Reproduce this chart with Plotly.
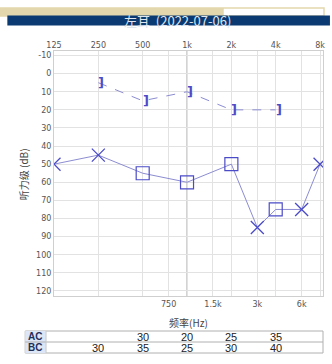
import numpy as np
import plotly.graph_objects as go

# ---- data ----
ac_freq = [125, 250, 500, 1000, 2000, 3000, 4000, 6000, 8000]
ac_db = [50, 45, 55, 60, 50, 85, 75, 75, 50]
ac_symbol = ["x", "x", "sq", "sq", "sq", "x", "sq", "x", "x"]
bc_freq = [250, 500, 1000, 2000, 4000]
bc_db = [5, 15, 10, 20, 20]
top_ticks = [125, 250, 500, 1000, 2000, 4000, 8000]
top_labels = ["125", "250", "500", "1k", "2k", "4k", "8k"]
bot_ticks = [750, 1500, 3000, 6000]
bot_labels = ["750", "1.5k", "3k", "6k"]
y_ticks = list(range(-10, 121, 10))
y_labels = [str(v) for v in y_ticks]
table_freq = [250, 500, 1000, 2000, 4000]
table_ac = ["", "30", "20", "25", "35"]
table_bc = ["30", "35", "25", "30", "40"]
title = "左耳 &nbsp;(2022-07-06)"

W, H = 332, 364
L, R, T, B = 54, 325, 51, 296

def xp(px):
    return (px - L) / (R - L)

def yp(py):
    return (B - py) / (B - T)

mark_col = "#4b4bc8"
line_col = "#8c8cd2"

fig = go.Figure()
fig.add_trace(go.Scatter(x=ac_freq, y=ac_db, mode="lines",
                         line=dict(color=line_col, width=1), hoverinfo="skip"))
xs = [f for f, s in zip(ac_freq, ac_symbol) if s == "x"]
xd = [d for d, s in zip(ac_db, ac_symbol) if s == "x"]
ss = [f for f, s in zip(ac_freq, ac_symbol) if s == "sq"]
sd = [d for d, s in zip(ac_db, ac_symbol) if s == "sq"]
fig.add_trace(go.Scatter(x=xs, y=xd, mode="markers",
                         marker=dict(symbol="x-thin-open", size=13, color=mark_col,
                                     line=dict(color=mark_col, width=1.3))))
fig.add_trace(go.Scatter(x=ss, y=sd, mode="markers",
                         marker=dict(symbol="square-open", size=13, color=mark_col,
                                     line=dict(color=mark_col, width=1.2))))
fig.add_trace(go.Scatter(x=bc_freq, y=bc_db, mode="lines",
                         line=dict(color=line_col, width=1, dash="dash")))
for f, d in zip(bc_freq, bc_db):
    fig.add_annotation(x=np.log10(f), y=d, xref="x", yref="y", text="<b>]</b>",
                       showarrow=False, xshift=3, xanchor="center", yanchor="middle",
                       font=dict(family="DejaVu Sans", size=13, color=mark_col))
# invisible trace on top axis
fig.add_trace(go.Scatter(x=[125, 8000], y=[0, 0], xaxis="x2", mode="markers",
                         marker=dict(opacity=0), hoverinfo="skip"))

xr = [np.log10(125), np.log10(125) + (R - L) / 148.4]
axis_font = dict(family="DejaVu Sans", size=8, color="#555")
fig.update_layout(
    width=W, height=H, margin=dict(l=L, r=W - R, t=T, b=H - B),
    paper_bgcolor="white", plot_bgcolor="white", showlegend=False,
    xaxis=dict(type="log", range=xr, tickvals=bot_ticks, ticktext=bot_labels,
               showgrid=True, gridcolor="#e2e2e2", gridwidth=1, ticks="",
               tickfont=axis_font, showline=True, linecolor="#cfcfcf", mirror=True,
               zeroline=False),
    xaxis2=dict(type="log", range=xr, overlaying="x", side="top",
                tickvals=top_ticks, ticktext=top_labels, showgrid=True,
                gridcolor="#e2e2e2", ticks="", tickfont=axis_font, zeroline=False),
    yaxis=dict(range=[122.8, -12.5], tickvals=y_ticks, ticktext=y_labels,
               showgrid=True, gridcolor="#e2e2e2", ticks="", tickfont=axis_font,
               zeroline=False, showline=True, linecolor="#cfcfcf", mirror=True),
)
# darker 1k line
fig.add_shape(type="line", xref="x", yref="paper", x0=1000, x1=1000, y0=0, y1=1,
              line=dict(color="#b8b8b8", width=1.3), layer="below")

def note(px, py, text, size, color, family="Noto Sans CJK SC", angle=0):
    fig.add_annotation(xref="paper", yref="paper", x=xp(px), y=yp(py), text=text,
                       showarrow=False, xanchor="center", yanchor="middle",
                       textangle=angle, font=dict(family=family, size=size, color=color))

# header bars
fig.add_shape(type="rect", xref="paper", yref="paper", x0=xp(0), x1=xp(326),
              y0=yp(16), y1=yp(8), fillcolor="white",
              line=dict(color="#e3d7ad", width=1.5))
fig.add_shape(type="rect", xref="paper", yref="paper", x0=xp(0), x1=xp(225),
              y0=yp(16), y1=yp(8), fillcolor="#e3d7ad", line=dict(width=0))
fig.add_shape(type="rect", xref="paper", yref="paper", x0=xp(7), x1=xp(332),
              y0=yp(25.5), y1=yp(15.5), fillcolor="#0b3a72", line=dict(width=0))
note(178, 20.5, title, 13, "#dfe6f0")

# axis titles
note(23, 174, "听力级 (dB)", 10, "#444", angle=-90)
note(190, 322, "频率(Hz)", 10, "#444")

# table
tt, tm, tb = 331, 342, 353
fig.add_shape(type="rect", xref="paper", yref="paper", x0=xp(25), x1=xp(325),
              y0=yp(tb), y1=yp(tt), line=dict(color="#b0b0b0", width=1))
fig.add_shape(type="rect", xref="paper", yref="paper", x0=xp(25), x1=xp(46),
              y0=yp(tb), y1=yp(tt), fillcolor="#dce6f6", line=dict(width=0))
fig.add_shape(type="line", xref="paper", yref="paper", x0=xp(25), x1=xp(325),
              y0=yp(tm), y1=yp(tm), line=dict(color="#b0b0b0", width=1))
fig.add_shape(type="line", xref="paper", yref="paper", x0=xp(46), x1=xp(46),
              y0=yp(tb), y1=yp(tt), line=dict(color="#c8c8c8", width=1))
note(35, (tt + tm) / 2, "<b>AC</b>", 10, "#1f2f5a", family="Liberation Sans")
note(35, (tm + tb) / 2, "<b>BC</b>", 10, "#1f2f5a", family="Liberation Sans")
for f, a, b in zip(table_freq, table_ac, table_bc):
    for txt, yy in [(a, (tt + tm) / 2), (b, (tm + tb) / 2)]:
        fig.add_annotation(xref="x", yref="paper", x=np.log10(f), y=yp(yy),
                           text=txt, showarrow=False, xanchor="center",
                           yanchor="middle",
                           font=dict(family="Liberation Sans", size=11, color="#222"))

fig.write_html("out.html")
